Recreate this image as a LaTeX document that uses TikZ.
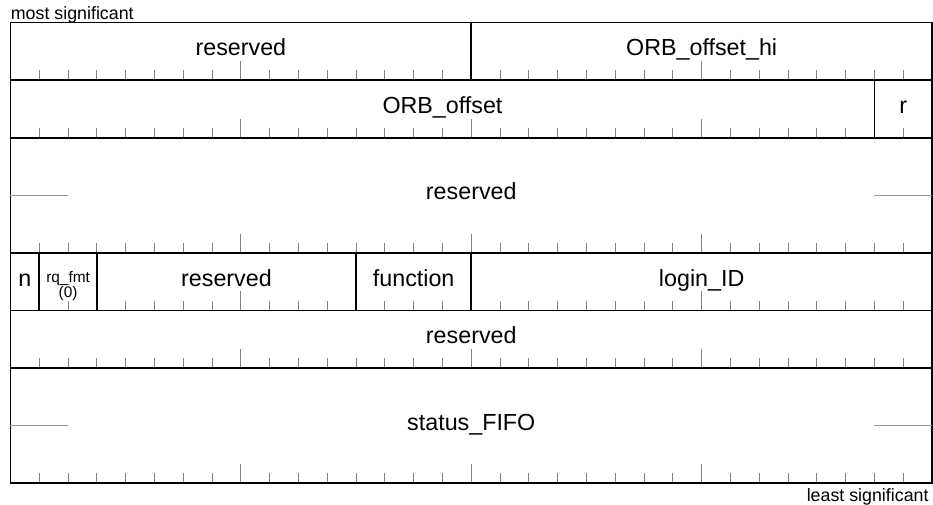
\documentclass[tikz,border=0pt]{standalone}
\usepackage{fontspec}
\setmainfont{Liberation Sans}
\begin{document}
\begin{tikzpicture}[
    field/.style={draw, line width=0.9pt, rectangle, anchor=north west, inner sep=0pt, outer sep=0pt,
      minimum width=#1*0.5cm, minimum height=1cm, font=\fontsize{11.5}{13}\selectfont,
      text height=0.3cm, text depth=0.14cm},
    wide/.style={minimum height=2cm},
    bittick/.style={black!50, line width=0.5pt},
    stub/.style={black!40, line width=0.6pt},
    endnote/.style={font=\fontsize{8.8}{10}\selectfont, inner sep=0pt}
  ]
  \useasboundingbox (-0.182,0.39) rectangle (16.016,-8.377);

  % Znaczniki bitow
  \foreach \y in {-1,-2,-4,-5,-6,-8}
    \foreach \b in {1,...,31} {
      \pgfmathsetmacro\len{mod(\b,8)==0 ? 0.33 : 0.17}
      \draw[bittick] (\b*0.5,\y) -- ++(0,\len);
    }

  % Pola
  \node (res1) at (0,0) [field=16] {reserved};
  \node (orbhi) at (res1.north east) [field=16] {ORB\_offset\_hi};

  \node (orb) at (res1.south west) [field=30] {ORB\_offset};
  \node (r) at (orb.north east) [field=2] {r};

  \node (res2) at (orb.south west) [field=32, wide] {reserved};
  \draw[stub] (res2.west) -- ++(1,0);
  \draw[stub] (res2.east) -- ++(-1,0);

  \node (n) at (res2.south west) [field=1] {n};
  \node (rqfmt) at (n.north east) [field=2] {};
  \node (rqtxt) at ([yshift=-0.08cm]rqfmt.center) [align=center, inner sep=0pt,
    font=\fontsize{7.6}{7.4}\selectfont] {rq\_fmt\\(0)};
  \node (res3) at (rqfmt.north east) [field=9] {reserved};
  \node (func) at (res3.north east) [field=4] {function};
  \node (login) at (func.north east) [field=16] {login\_ID};

  \node (res4) at (n.south west) [field=32] {reserved};

  \node (fifo) at (res4.south west) [field=32, wide] {status\_FIFO};
  \draw[stub] (fifo.west) -- ++(1,0);
  \draw[stub] (fifo.east) -- ++(-1,0);

  % Opisy
  \node (msb) at (0,0.045) [endnote, anchor=base west] {most significant};
  \node (lsb) at (15.946,-8.32) [endnote, anchor=base east] {least significant};

\end{tikzpicture}
\end{document}
